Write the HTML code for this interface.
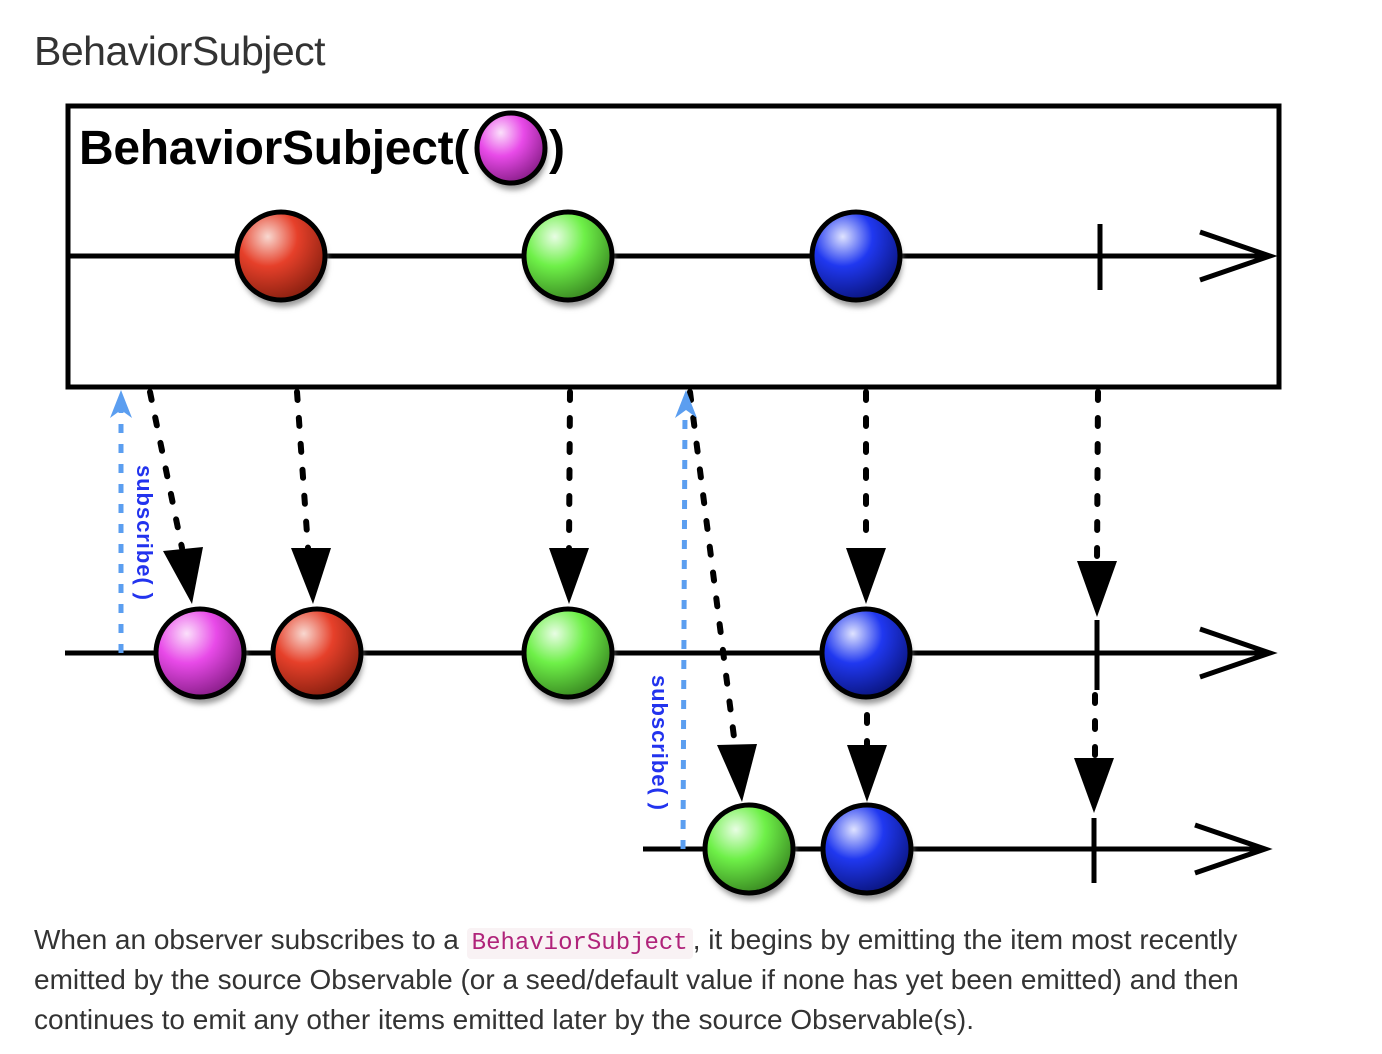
<!DOCTYPE html>
<html><head><meta charset="utf-8"><style>
html,body{margin:0;padding:0;background:#fff;width:1382px;height:1054px;overflow:hidden;position:relative;font-family:"Liberation Sans",Arial,sans-serif;color:#333}
.t{position:absolute;white-space:nowrap}
code{font-family:"Liberation Mono",monospace;font-size:24px;color:#b0237a;background:#f9f2f4;padding:2px 5px;border-radius:4px}
</style></head><body>
<div class="t" style="left:34px;top:28px;font-size:41px;letter-spacing:-0.5px">BehaviorSubject</div>
<svg width="1382" height="1054" style="position:absolute;left:0;top:0">
<defs>
<radialGradient id="gm" cx="0.35" cy="0.28" r="0.75"><stop offset="0" stop-color="#fbe0fb"/><stop offset="0.45" stop-color="#e84ae8"/><stop offset="1" stop-color="#8a1e8a"/></radialGradient>
<radialGradient id="gr" cx="0.35" cy="0.28" r="0.75"><stop offset="0" stop-color="#f8d8d0"/><stop offset="0.45" stop-color="#e6402a"/><stop offset="1" stop-color="#8a2010"/></radialGradient>
<radialGradient id="gg" cx="0.35" cy="0.28" r="0.75"><stop offset="0" stop-color="#e8fde4"/><stop offset="0.45" stop-color="#6ef048"/><stop offset="1" stop-color="#3a8a22"/></radialGradient>
<radialGradient id="gb" cx="0.35" cy="0.28" r="0.75"><stop offset="0" stop-color="#dfe3ff"/><stop offset="0.45" stop-color="#2038f0"/><stop offset="1" stop-color="#0a1580"/></radialGradient>
<filter id="sh" x="-20%" y="-20%" width="140%" height="160%"><feGaussianBlur stdDeviation="3"/></filter>
</defs>
<rect x="68" y="106" width="1211" height="281" fill="none" stroke="#000" stroke-width="5"/>
<text x="79" y="164" font-family="Liberation Sans,Arial,sans-serif" font-weight="bold" font-size="48" fill="#000" letter-spacing="-0.3">BehaviorSubject(</text>
<text x="549" y="164" font-family="Liberation Sans,Arial,sans-serif" font-weight="bold" font-size="48" fill="#000">)</text>
<g stroke="#000" stroke-width="5" fill="none">
<line x1="68" y1="262" x2="1265" y2="262" stroke="#bbb" filter="url(#sh)"/>
<line x1="65" y1="659" x2="1265" y2="659" stroke="#bbb" filter="url(#sh)"/>
<line x1="643" y1="855" x2="1260" y2="855" stroke="#bbb" filter="url(#sh)"/>
<line x1="68" y1="256" x2="1270" y2="256"/>
<polyline points="1200,232 1270,256 1200,280"/>
<line x1="1100" y1="224" x2="1100" y2="290"/>
<line x1="65" y1="653" x2="1270" y2="653"/>
<polyline points="1200,629 1270,653 1200,677"/>
<line x1="1097" y1="620" x2="1097" y2="690"/>
<line x1="643" y1="849" x2="1265" y2="849"/>
<polyline points="1195,825 1265,849 1195,873"/>
<line x1="1094" y1="818" x2="1094" y2="883"/>
</g>
<g stroke="#000" stroke-width="5">
<g fill="#999" stroke="none" filter="url(#sh)">
<ellipse cx="513" cy="154" rx="34" ry="36"/>
<circle cx="283" cy="263" r="44"/><circle cx="570" cy="263" r="44"/><circle cx="858" cy="263" r="44"/>
<circle cx="202" cy="660" r="44"/><circle cx="319" cy="660" r="44"/><circle cx="570" cy="660" r="44"/><circle cx="868" cy="660" r="44"/>
<circle cx="751" cy="856" r="44"/><circle cx="869" cy="856" r="44"/>
</g>
<ellipse cx="511" cy="148" rx="34" ry="35" fill="url(#gm)"/>
<circle cx="281" cy="256" r="44" fill="url(#gr)"/>
<circle cx="568" cy="256" r="44" fill="url(#gg)"/>
<circle cx="856" cy="256" r="44" fill="url(#gb)"/>
<circle cx="200" cy="653" r="44" fill="url(#gm)"/>
<circle cx="317" cy="653" r="44" fill="url(#gr)"/>
<circle cx="568" cy="653" r="44" fill="url(#gg)"/>
<circle cx="866" cy="653" r="44" fill="url(#gb)"/>
<circle cx="749" cy="849" r="44" fill="url(#gg)"/>
<circle cx="867" cy="849" r="44" fill="url(#gb)"/>
</g>
<g stroke="#000" stroke-width="6" stroke-dasharray="8 18" stroke-linecap="round" fill="none">
<line x1="150" y1="392" x2="182" y2="548"/>
<line x1="297" y1="392" x2="308" y2="548"/>
<line x1="570" y1="392" x2="569" y2="548"/>
<line x1="866" y1="392" x2="866" y2="548"/>
<line x1="1098" y1="392" x2="1097" y2="560"/>
<line x1="690" y1="392" x2="735" y2="745"/>
<line x1="867" y1="715" x2="867" y2="745"/>
<line x1="1095" y1="695" x2="1095" y2="760"/>
</g>
<g fill="#000">
<polygon points="163,551 203,547 192,604"/>
<polygon points="291,548 331,548 313,604"/>
<polygon points="549,548 589,548 569,604"/>
<polygon points="846,548 886,548 866,604"/>
<polygon points="1077,561 1117,561 1097,617"/>
<polygon points="717,745 757,744 742,802"/>
<polygon points="847,745 887,745 867,802"/>
<polygon points="1074,758 1114,758 1094,813"/>
</g>
<g stroke="#5b9ef0" stroke-width="5" stroke-dasharray="9 11" fill="none">
<line x1="121" y1="653" x2="121" y2="408"/>
<line x1="683" y1="849" x2="685" y2="408"/>
</g>
<g fill="#5b9ef0">
<polygon points="121,390 110,418 121,410 132,418"/>
<polygon points="686,390 675,418 686,410 697,418"/>
</g>
<text transform="translate(137,465) rotate(90)" font-family="Liberation Sans,Arial,sans-serif" font-weight="bold" font-size="22" fill="#2233ee" textLength="135">subscribe( )</text>
<text transform="translate(652,675) rotate(90)" font-family="Liberation Sans,Arial,sans-serif" font-weight="bold" font-size="22" fill="#2233ee" textLength="135">subscribe( )</text>
</svg>
<div class="t" style="left:34px;top:924px;font-size:28px">When an observer subscribes to a <code>BehaviorSubject</code>, it begins by emitting the item most recently</div>
<div class="t" style="left:34px;top:964px;font-size:28px">emitted by the source Observable (or a seed/default value if none has yet been emitted) and then</div>
<div class="t" style="left:34px;top:1004px;font-size:28px">continues to emit any other items emitted later by the source Observable(s).</div>
</body></html>
